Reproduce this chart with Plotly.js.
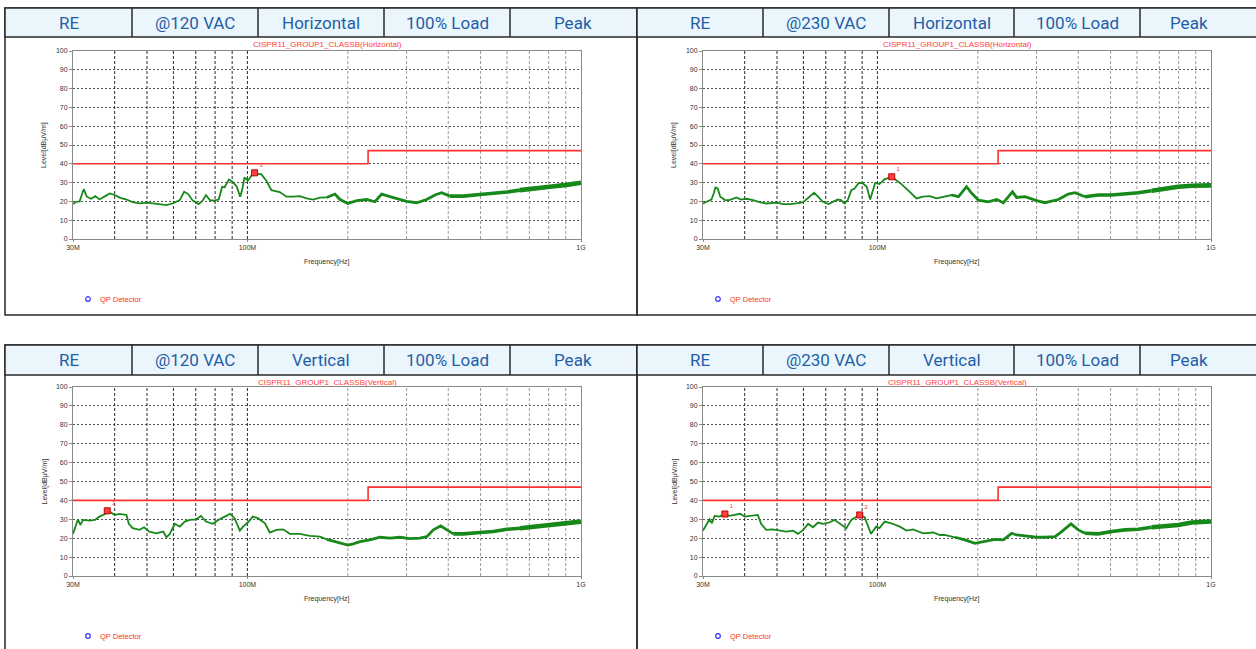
<!DOCTYPE html>
<html><head><meta charset="utf-8">
<script src="https://cdn.plot.ly/plotly-3.0.1.min.js"></script>
<style>html,body{margin:0;padding:0;background:#fff;overflow:hidden}#chart{width:1256px;height:649px}</style>
</head><body><div id="chart"></div>
<script>
// ---------------- data ----------------
const tickFreq = [30, 100, 1000];
const tickText = ['30M', '100M', '1G'];
const levelTicks = [0, 10, 20, 30, 40, 50, 60, 70, 80, 90, 100];
const gridFreqDark = [40, 50, 60, 70, 80, 90, 100];
const gridFreqLight = [200, 300, 400, 500, 600, 700, 800, 900];
const limitFreq = [30, 230, 230, 1000];
const limitLevel = [40, 40, 47, 47];

const headerTL = ['RE', '@120 VAC', 'Horizontal', '100% Load', 'Peak'];
const headerTR = ['RE', '@230 VAC', 'Horizontal', '100% Load', 'Peak'];
const headerBL = ['RE', '@120 VAC', 'Vertical', '100% Load', 'Peak'];
const headerBR = ['RE', '@230 VAC', 'Vertical', '100% Load', 'Peak'];
const titleH = 'CISPR11_GROUP1_CLASSB(Horizontal)';
const titleV = 'CISPR11_GROUP1_CLASSB(Vertical)';
const yTitle = 'Level[dBμV/m]';
const xTitle = 'Frequency[Hz]';
const legendText = 'QP Detector';

// top-left: 120 VAC horizontal
const tlFreq = [30,30.7,31.4,32.3,33.0,34.0,35.0,36.0,37.8,38.7,40,41.4,43.4,45.3,47.5,50,52.1,54.6,57.2,59.9,62.7,64.6,66.4,68.6,71.4,73.4,75.1,77.2,79.6,82.0,84.0,85.4,88.0,90.4,92.9,95.1,96.4,98.0,100.3,102.6,105.1,107.5,110.0,114.0,118.0,125.0,130.9,137.1,143.6,150.4,157.4,165,172.8,183,189.5,200,212.6,227.8,241,252.6,267.5,286.6,300,321.7,344.7,364.9,382,404.8,443.7,498,546,600,656,719,807,906,1000];
const tlLevel = [18.6,19.8,20,26.5,22.5,21.4,22.8,21,23.2,24.2,23.4,22,21,19.6,19,19.3,19,18.6,18,19,20.7,25.1,23.9,20.4,18.6,20.4,23.4,20.7,20.4,21,27.8,27.4,31.7,30.4,27.8,22.5,26,32.7,31,33.5,35.2,34.5,34.5,31,26,25,22.5,22.5,22.8,21.6,21,22,22.1,23.9,21,18.9,20.4,21,19.8,23.9,22.5,21,20,19.3,21,23.4,24.6,22.8,22.8,23.7,24.2,25,26,27,27.8,28.8,29.9];
const tlPeakFreq = [105.1];
const tlPeakLevel = [35.2];
const tlPeakLabel = ['1'];

// top-right: 230 VAC horizontal
const trFreq = [30,30.8,31.8,32.3,32.7,33.2,33.8,34.9,36.0,37.8,39.0,40.5,42.4,44.3,46.4,50,52.1,54.6,57.2,59.9,62.7,64.6,66.4,68.6,71.4,73.4,76.0,77.8,79.6,81.5,83.5,85.4,88.0,90.4,92.9,95.1,97.0,98.5,101.4,105.1,110.4,114.0,118.0,125.0,130.9,137.1,143.6,150.4,159,167,175,185,192,200.8,215,228,238.5,247,254,261.5,277,300,318,348.6,373.5,391,419,459,504,552,605,664,728,798,875,1000];
const trLevel = [18.9,19.8,21,24.2,27.4,26.9,22.5,20.7,20.7,22.1,21,21.4,20.7,19.6,18.9,19.3,18.6,18.6,18.9,19.6,22.5,24.6,22.5,19.8,18.6,19.6,21,20.7,18.9,20.7,26,26.9,29.9,29.6,27.8,21,26,29.9,29.2,31.7,33.1,31.3,29.2,25.1,21.6,22.5,22.8,21.6,22.5,23.4,22.5,27.8,24.2,20.7,19.8,21,19.3,22.5,25.1,22.1,22.5,20.4,19.3,21,23.9,24.6,22.5,23.4,23.4,23.9,24.6,25.7,26.9,27.8,28.3,28.5];
const trPeakFreq = [110.4];
const trPeakLevel = [33.1];
const trPeakLabel = ['1'];

// bottom-left: 120 VAC vertical
const blFreq = [30,30.55,31.05,31.55,32.15,33.66,34.9,36.0,37.8,39.0,40,41.4,43.4,44.1,45.3,47.5,49.0,50.8,53.3,55.9,57.2,58.5,60.6,62.7,64.9,67.2,70.2,72.6,75.1,78.7,82.5,86.4,88.8,91.5,94.9,97.0,100.3,103.8,107.5,112.9,116.7,122.2,128,134,143.6,153.9,165,172.8,183,193.9,200,207.7,217.5,233,249.7,267.5,286.6,307,329,344.7,361,379.5,400,414,443.7,498,546,600,656,719,807,906,1000];
const blLevel = [22.3,26.1,30,27,29.7,29.3,29.7,31.4,33.2,33.6,32.3,32.9,32.3,27.6,25.3,24.4,25.8,23.5,22.6,23.5,20.5,22.3,27.6,26.1,28.8,29.7,30,31.8,28.8,27.6,30,31.8,32.9,30.6,24,26.1,28.3,31.4,30.6,27.9,23,24.4,24.7,22.3,22.3,21.2,20.8,19.4,18.2,17.3,16.4,17,18.2,19.1,20.5,20,20.5,19.8,20,20.8,24.4,26.5,24,22.3,22.3,23,23.5,24.7,25.3,26.1,27,27.9,28.8];
const blPeakFreq = [38.0];
const blPeakLevel = [34.5];
const blPeakLabel = ['1'];

// bottom-right: 230 VAC vertical
const brFreq = [30,30.8,31.4,31.9,32.5,33.66,34.8,36.0,37.8,38.8,40,41.4,42.8,43.8,44.8,46.4,48.5,50.8,53.3,55.9,57.8,59.9,62.0,64.1,66.4,68.6,71.8,74.3,77.0,80.7,83.5,86.4,88.4,91.5,95.7,99.1,101.4,105.1,110,116.7,122.2,128,137.1,147,153.9,159,170.8,183,196,210,225,238.5,252.6,261.5,277,300,318,340.8,356.8,380.4,400,419,459,504,552,605,664,728,798,875,1000];
const brLevel = [24,27.9,30,27.9,31.8,31.4,32.9,31.8,32.3,32.9,31.4,31.8,31.8,32.3,27.6,24.4,24.7,24,23.5,24,22.3,24.4,27.6,25.8,28.3,27.6,28.3,29.7,27.9,25.3,29.7,31.4,32.3,31.1,22.3,26.1,25.3,28.8,27.9,26.1,24,24.7,22.6,23,21.7,21.7,20.5,19.1,17.3,18.2,19.4,19.1,22.6,21.7,21.2,20.5,20.5,20.8,23.5,27.6,24.4,22.6,22.3,23.5,24.4,24.7,25.8,26.1,27,28.3,28.8];
const brPeakFreq = [34.9, 88.5];
const brPeakLevel = [32.8, 32.3];
const brPeakLabel = ['1', '2'];

// ---------------- layout / styling ----------------
const W = 1256, H = 649;
const X = p => p / W, Y = p => 1 - p / H;

const panels = [
  {s:'',  header:headerTL, title:titleH, f:tlFreq, l:tlLevel, pf:tlPeakFreq, pl:tlPeakLevel, pt:tlPeakLabel,
   plot:[73,581,51,239], box:[5,8,637,315], hb:37, cells:[5,132,258,384,510,637], txt:[69,195,321,447,573], legY:299, titleY:45, xtY:262},
  {s:'2', header:headerTR, title:titleH, f:trFreq, l:trLevel, pf:trPeakFreq, pl:trPeakLevel, pt:trPeakLabel,
   plot:[703,1211,51,239], box:[637,8,1266,315], hb:37, cells:[637,763,889,1014,1140,1266], txt:[700,826,952,1077,1189], legY:299, titleY:45, xtY:262},
  {s:'3', header:headerBL, title:titleV, f:blFreq, l:blLevel, pf:blPeakFreq, pl:blPeakLevel, pt:blPeakLabel,
   plot:[73,581,387,576], box:[5,345,637,662], hb:375, cells:[5,132,258,384,510,637], txt:[69,195,321,447,573], legY:636, titleY:382, xtY:599},
  {s:'4', header:headerBR, title:titleV, f:brFreq, l:brLevel, pf:brPeakFreq, pl:brPeakLevel, pt:brPeakLabel,
   plot:[703,1211,387,576], box:[637,345,1266,662], hb:375, cells:[637,763,889,1014,1140,1266], txt:[700,826,952,1077,1189], legY:636, titleY:382, xtY:599}
];

const bandStyles = [{lo:30,hi:175,w:1.8},{lo:175,hi:420,w:2.8},{lo:420,hi:700,w:3.6},{lo:700,hi:1000,w:4.6}];
const GREEN = '#17891a', RED = '#ff3030';
const smallFont = {family:'Liberation Sans, Arial, sans-serif', size:7, color:'#333'};

function vgrid(freqs) {
  const x = [], y = [];
  freqs.forEach(f => { x.push(f, f, null); y.push(0, 100, null); });
  return {x, y};
}

const traces = [];
const layout = {
  width: W, height: H, margin:{l:0,r:0,t:0,b:0},
  paper_bgcolor:'#fff', plot_bgcolor:'#fff', showlegend:false,
  shapes:[], annotations:[]
};

panels.forEach(p => {
  const xa = 'x' + p.s, ya = 'y' + p.s;
  const [pl, pr, pt, pb] = p.plot;
  layout['xaxis' + p.s] = {
    type:'log', range:[Math.log10(30), 3], domain:[X(pl), X(pr)], anchor:ya,
    tickvals:tickFreq, ticktext:tickText, showgrid:false, zeroline:false,
    showline:true, linecolor:'#8a8a8a', linewidth:1, mirror:true,
    ticks:'outside', ticklen:2, tickcolor:'#8a8a8a', tickfont:smallFont, fixedrange:true
  };
  layout['yaxis' + p.s] = {
    range:[0,100], domain:[Y(pb), Y(pt)], anchor:xa,
    tickvals:levelTicks, showgrid:true, gridcolor:'#555', gridwidth:1, griddash:'2px,2px', zeroline:false,
    showline:true, linecolor:'#8a8a8a', linewidth:1, mirror:true,
    ticks:'outside', ticklen:3, tickcolor:'#8a8a8a', tickfont:smallFont, fixedrange:true
  };

  const gd = vgrid(gridFreqDark), gl = vgrid(gridFreqLight);
  traces.push({x:gl.x, y:gl.y, xaxis:xa, yaxis:ya, mode:'lines', line:{color:'#9a9a9a', width:1, dash:'3px,2px'}, hoverinfo:'skip'});
  traces.push({x:gd.x, y:gd.y, xaxis:xa, yaxis:ya, mode:'lines', line:{color:'#2a2a2a', width:1, dash:'3px,2px'}, hoverinfo:'skip'});
  traces.push({x:limitFreq, y:limitLevel, xaxis:xa, yaxis:ya, mode:'lines', line:{color:RED, width:1.6}, hoverinfo:'skip'});

  bandStyles.forEach(b => {
    let i0 = p.f.findIndex(v => v >= b.lo); if (i0 > 0) i0 -= 1;
    let i1 = -1; p.f.forEach((v, i) => { if (v <= b.hi) i1 = i; });
    traces.push({x:p.f.slice(i0, i1 + 1), y:p.l.slice(i0, i1 + 1), xaxis:xa, yaxis:ya, mode:'lines',
      line:{color:GREEN, width:b.w, shape:'linear'}, hoverinfo:'skip'});
  });

  traces.push({x:p.pf, y:p.pl, text:p.pt, xaxis:xa, yaxis:ya, mode:'markers+text', textposition:'top right',
    textfont:{family:'Liberation Sans, Arial', size:6, color:RED},
    marker:{symbol:'square', size:6, color:'#ff4040', line:{color:'#c00000', width:1}}, hoverinfo:'skip'});

  // panel frame and header
  const [bx0, by0, bx1, by1] = p.box;
  layout.shapes.push({type:'rect', xref:'paper', yref:'paper', x0:X(bx0), x1:X(bx1), y0:Y(by1), y1:Y(by0),
    line:{color:'#2a2a2a', width:1.5}, fillcolor:'rgba(0,0,0,0)'});
  layout.shapes.push({type:'rect', xref:'paper', yref:'paper', x0:X(bx0), x1:X(bx1), y0:Y(p.hb), y1:Y(by0),
    line:{color:'#2a2a2a', width:1.5}, fillcolor:'#eaf6fb'});
  p.cells.forEach((c, i) => {
    if (i > 0 && i < p.cells.length - 1)
      layout.shapes.push({type:'line', xref:'paper', yref:'paper', x0:X(c), x1:X(c), y0:Y(p.hb), y1:Y(by0),
        line:{color:'#2a2a2a', width:1.5}});
  });
  p.header.forEach((t, i) => {
    layout.annotations.push({xref:'paper', yref:'paper', x:X(p.txt[i]), y:Y((by0 + p.hb) / 2),
      text:t, showarrow:false, xanchor:'center', yanchor:'middle',
      font:{family:'Roboto, sans-serif', size:17, color:'#1f5ea8'}});
  });
  const cx = (pl + pr) / 2;
  layout.annotations.push({xref:'paper', yref:'paper', x:X(cx), y:Y(p.titleY), text:p.title, showarrow:false,
    xanchor:'center', yanchor:'middle', font:{family:'Liberation Sans, Arial', size:8, color:'#ff3c3c'}});
  layout.annotations.push({xref:'paper', yref:'paper', x:X(pl - 29), y:Y((pt + pb) / 2), text:yTitle, showarrow:false,
    textangle:-90, xanchor:'center', yanchor:'middle', font:smallFont});
  layout.annotations.push({xref:'paper', yref:'paper', x:X(cx), y:Y(p.xtY), text:xTitle, showarrow:false,
    xanchor:'center', yanchor:'middle', font:smallFont});
  // legend
  const lx = pl + 15;
  layout.shapes.push({type:'circle', xref:'paper', yref:'paper', x0:X(lx - 2.3), x1:X(lx + 2.3), y0:Y(p.legY + 2.3), y1:Y(p.legY - 2.3),
    line:{color:'#3333ff', width:1.2}, fillcolor:'rgba(0,0,0,0)'});
  layout.annotations.push({xref:'paper', yref:'paper', x:X(lx + 10), y:Y(p.legY), text:legendText, showarrow:false,
    xanchor:'left', yanchor:'middle', font:{family:'Liberation Sans, Arial', size:7.5, color:'#ff3030'}});
});

Plotly.newPlot('chart', traces, layout, {displayModeBar:false, staticPlot:true});
</script></body></html>
